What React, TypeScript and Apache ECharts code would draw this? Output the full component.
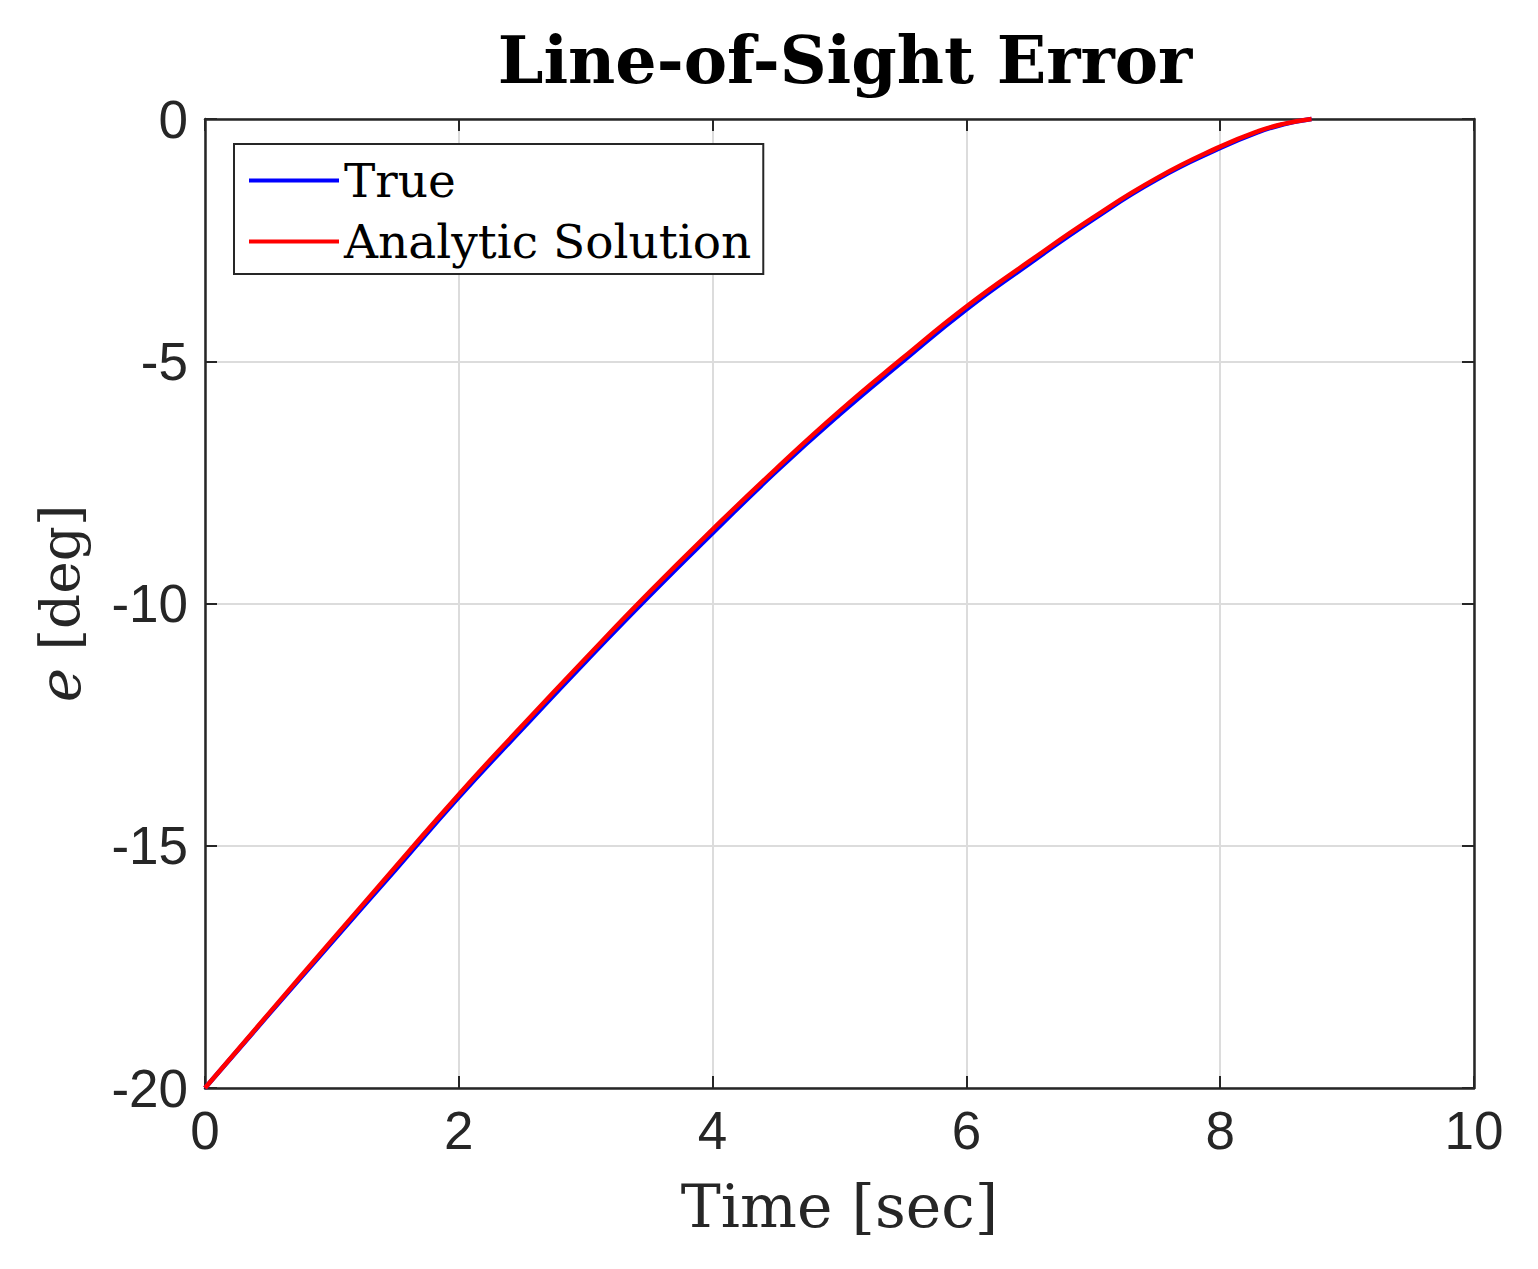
import React, { useEffect, useRef } from "react";
import * as echarts from "echarts";

const timeSec = [0, 0.5, 1, 1.5, 2, 2.5, 3, 3.5, 4, 4.5, 5, 5.5, 6, 6.5, 7, 7.5, 8, 8.3, 8.5, 8.72];
const trueDeg = [-20, -18.49, -16.99, -15.5, -14.0, -12.59, -11.2, -9.85, -8.55, -7.28, -6.1, -5.0, -3.93, -2.98, -2.07, -1.25, -0.6, -0.27, -0.11, 0];
const analyticDeg = [-20, -18.47, -16.95, -15.44, -13.94, -12.52, -11.13, -9.77, -8.47, -7.22, -6.03, -4.93, -3.87, -2.93, -2.03, -1.22, -0.57, -0.25, -0.1, 0];
const xTicks = { min: 0, max: 10, interval: 2 };
const yTicks = { min: -20, max: 0, interval: 5 };

const AXIS = "#262626";
const SANS = "Liberation Sans";
const SERIF = "DejaVu Serif";

export default function App() {
  const ref = useRef<HTMLDivElement>(null);
  useEffect(() => {
    if (!ref.current) return;
    const chart = echarts.init(ref.current, undefined, { renderer: "svg" });
    const zip = (ys: number[]) => timeSec.map((t, i) => [t, ys[i]]);
    const tick = { show: true, inside: true, length: 12, lineStyle: { color: AXIS, width: 2 } };
    const axisLine = { show: true, onZero: false, lineStyle: { color: AXIS, width: 2.5 } };
    const split = { show: true, lineStyle: { color: "#dcdcdc", width: 2 } };
    const label = { color: AXIS, fontFamily: SANS, fontSize: 53 };
    chart.setOption({
      animation: false,
      backgroundColor: "#ffffff",
      title: {
        text: "Line-of-Sight Error",
        left: 840,
        top: 22,
        textAlign: "center",
        textStyle: { fontFamily: SERIF, fontWeight: "bold", fontSize: 65, color: "#000" },
      },
      grid: { left: 205, top: 119, right: 64, bottom: 181, containLabel: false },
      legend: {
        orient: "vertical",
        left: 234,
        top: 144,
        padding: [13, 12, 9, 15],
        itemWidth: 90,
        itemHeight: 4,
        itemGap: 14,
        icon: "rect",
        borderColor: AXIS,
        borderWidth: 2,
        borderRadius: 0,
        backgroundColor: "#ffffff",
        textStyle: { fontFamily: SERIF, fontSize: 47, color: "#000", lineHeight: 47 },
        data: ["True", "Analytic Solution"],
      },
      xAxis: [
        {
          type: "value",
          ...xTicks,
          name: "Time [sec]",
          nameLocation: "middle",
          nameGap: 88,
          nameTextStyle: { fontFamily: SERIF, fontSize: 60, color: AXIS },
          axisLine,
          axisTick: tick,
          axisLabel: { ...label, margin: 16 },
          splitLine: split,
        },
        {
          type: "value",
          ...xTicks,
          position: "top",
          axisLine,
          axisTick: tick,
          axisLabel: { show: false },
          splitLine: { show: false },
        },
      ],
      yAxis: [
        {
          type: "value",
          ...yTicks,
          name: "{i|e} [deg]",
          nameLocation: "middle",
          nameGap: 116,
          nameRotate: 90,
          nameTextStyle: {
            fontFamily: SERIF,
            fontSize: 55,
            color: AXIS,
            rich: { i: { fontFamily: SERIF, fontStyle: "italic", fontSize: 58, color: AXIS } },
          },
          axisLine,
          axisTick: tick,
          axisLabel: { ...label, margin: 17 },
          splitLine: split,
        },
        {
          type: "value",
          ...yTicks,
          position: "right",
          axisLine,
          axisTick: tick,
          axisLabel: { show: false },
          splitLine: { show: false },
        },
      ],
      series: [
        {
          name: "True",
          type: "line",
          data: zip(trueDeg),
          smooth: 0.5,
          symbol: "none",
          clip: false,
          lineStyle: { color: "#0000ff", width: 4.5 },
          itemStyle: { color: "#0000ff" },
          z: 3,
        },
        {
          name: "Analytic Solution",
          type: "line",
          data: zip(analyticDeg),
          smooth: 0.5,
          symbol: "none",
          clip: false,
          lineStyle: { color: "#ff0000", width: 4.5 },
          itemStyle: { color: "#ff0000" },
          z: 4,
        },
      ],
    });
    return () => chart.dispose();
  }, []);
  return (
    <div
      ref={ref}
      style={{ position: "absolute", left: 0, top: 0, width: 1538, height: 1269, background: "#fff" }}
    />
  );
}
